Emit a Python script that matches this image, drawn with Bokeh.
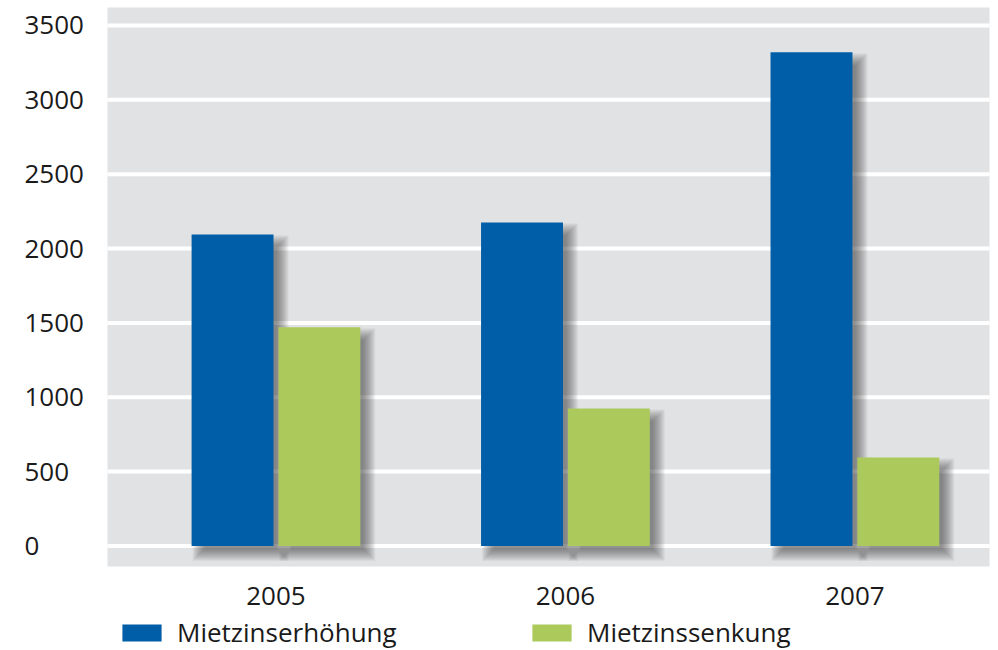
from bokeh.plotting import figure
from bokeh.models import Legend, LegendItem, Range1d
from bokeh.embed import file_html
from bokeh.resources import INLINE
from bokeh.core.properties import value

# Data
years = ["2005", "2006", "2007"]
erhoehung = [2095, 2175, 3320]   # Mietzinserhöhung
senkung = [1470, 925, 595]       # Mietzinssenkung
y_ticks = [0, 500, 1000, 1500, 2000, 2500, 3000, 3500]

# Style
BLUE = "#005ea8"
GREEN = "#acc95c"
BG = "#e1e2e4"
TXT = "#1a1a1a"
FONT = "Open Sans"
FONT_SIZE = "26px"

W, H = 998, 650
# plot area (gray panel) in data units and its size in pixels
X0, X1 = -0.582, 2.465
Y0, Y1 = -138, 3621
PW, PH = 882, 559
PL, PT = 107, 7                      # panel offset from canvas left / top
px_x = (X1 - X0) / PW
px_y = (Y1 - Y0) / PH

x_range = Range1d(X0 - PL * px_x, X1 + (W - PL - PW) * px_x)
y_range = Range1d(Y0 - (H - PT - PH) * px_y, Y1 + PT * px_y)

BAR_W = 0.283
OFF = 0.150

p = figure(width=W, height=H, x_range=x_range, y_range=y_range,
           output_backend="svg", toolbar_location=None,
           min_border=0)
p.background_fill_color = "white"
p.border_fill_color = "white"
p.outline_line_color = None
p.axis.visible = False
p.grid.visible = False

xs = list(range(len(years)))

# gray panel and white horizontal grid lines
p.quad(left=[X0], right=[X1], bottom=[Y0], top=[Y1],
       fill_color=BG, line_color=None)
p.segment(x0=[X0] * len(y_ticks), x1=[X1] * len(y_ticks),
          y0=y_ticks, y1=y_ticks, line_color="white", line_width=4)

# soft drop shadows behind the bars, built from stacked translucent quads
SHIFT = 8
for vals, off in ((erhoehung, -OFF), (senkung, OFF)):
    for k in range(13):
        e = k - 5
        left = [i + off - BAR_W / 2 + (SHIFT - e) * px_x for i in xs]
        right = [i + off + BAR_W / 2 + (SHIFT + e) * px_x for i in xs]
        top = [v - (SHIFT - e) * px_y for v in vals]
        bottom = [-(SHIFT + e) * px_y for _ in vals]
        p.quad(left=left, right=right, top=top, bottom=bottom,
               fill_color="#3c3c3c", fill_alpha=0.055, line_color=None)

rb = p.vbar(x=[i - OFF for i in xs], top=erhoehung, bottom=0, width=BAR_W,
            fill_color=BLUE, line_color=None)
rg = p.vbar(x=[i + OFF for i in xs], top=senkung, bottom=0, width=BAR_W,
            fill_color=GREEN, line_color=None)

# value axis labels, left aligned
p.text(x=[X0 - 83 * px_x] * len(y_ticks), y=y_ticks,
       text=[str(v) for v in y_ticks], text_align="left",
       text_baseline="middle", text_font=value(FONT),
       text_font_size=FONT_SIZE, text_color=TXT)

# category labels below the panel
p.text(x=xs, y=[Y0 - 29 * px_y] * len(xs), text=years,
       text_align="center", text_baseline="middle", text_font=value(FONT),
       text_font_size=FONT_SIZE, text_color=TXT)

legend = Legend(items=[LegendItem(label="Mietzinserhöhung", renderers=[rb]),
                       LegendItem(label="Mietzinssenkung", renderers=[rg])],
                orientation="horizontal", location=(117, 0),
                glyph_width=49, glyph_height=21, label_width=350,
                label_standoff=11, spacing=0, padding=0, margin=0,
                border_line_color=None, background_fill_alpha=0,
                label_text_font=FONT, label_text_font_size=FONT_SIZE,
                label_text_color=TXT)
p.add_layout(legend)

open("out.html", "w").write(file_html(p, INLINE))
